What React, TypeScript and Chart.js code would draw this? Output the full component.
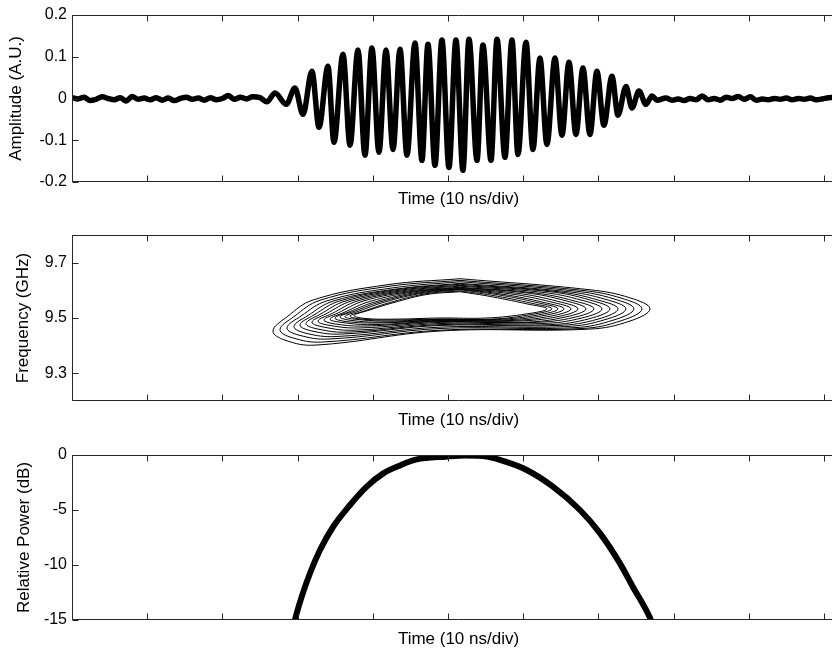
import React, { useEffect, useRef } from "react";
import { Chart, registerables } from "chart.js";

Chart.register(...registerables);

// ---------- shared axis data ----------
const xTicks = [0, 1, 2, 3, 4, 5, 6, 7, 8, 9, 10];
const xTitle = "Time (10 ns/div)";

const amplitudeTicks = [-0.2, -0.1, 0, 0.1, 0.2];
const amplitudeLabels = ["-0.2", "-0.1", "0", "0.1", "0.2"];
const freqTicks = [9.3, 9.5, 9.7];
const freqLabels = ["9.3", "9.5", "9.7"];
const powerTicks = [-15, -10, -5, 0];
const powerLabels = ["-15", "-10", "-5", "0"];

// ---------- panel 1: waveform ----------
const leadTime = [0.0, 0.08, 0.16, 0.24, 0.32, 0.4, 0.48, 0.56, 0.64, 0.72, 0.8, 0.88, 0.96, 1.04, 1.12, 1.2, 1.28, 1.36, 1.44, 1.52, 1.6, 1.68, 1.76, 1.84, 1.92, 2.0, 2.08, 2.16, 2.24, 2.32, 2.4, 2.5, 2.59, 2.7, 2.85];
const leadAmp = [0.002, -0.001, 0.003, -0.005, -0.002, 0.004, 0.0, -0.003, 0.002, -0.006, 0.005, -0.002, 0.001, -0.003, 0.002, -0.004, 0.001, -0.005, 0.0, 0.003, -0.002, 0.001, -0.004, 0.002, -0.003, 0.0, 0.007, -0.002, 0.003, -0.001, 0.004, 0.002, -0.008, 0.013, -0.014];

const oscTime = [2.965, 3.072, 3.191, 3.285, 3.404, 3.484, 3.604, 3.697, 3.803, 3.896, 3.989, 4.082, 4.176, 4.269, 4.362, 4.455, 4.561, 4.654, 4.734, 4.827, 4.92, 5.013, 5.106, 5.199, 5.279, 5.386, 5.465, 5.572, 5.652, 5.758, 5.851, 5.931, 6.037, 6.13, 6.223, 6.316, 6.423, 6.516, 6.609, 6.702, 6.795, 6.888, 6.981, 7.074, 7.181, 7.261, 7.367, 7.447, 7.54, 7.633, 7.713, 7.779, 7.899];
const oscAmp = [0.025, -0.038, 0.065, -0.069, 0.077, -0.105, 0.106, -0.112, 0.116, -0.136, 0.121, -0.129, 0.116, -0.122, 0.118, -0.136, 0.133, -0.148, 0.13, -0.16, 0.14, -0.165, 0.14, -0.172, 0.142, -0.148, 0.128, -0.148, 0.142, -0.141, 0.14, -0.134, 0.135, -0.122, 0.097, -0.11, 0.097, -0.088, 0.087, -0.086, 0.073, -0.086, 0.065, -0.064, 0.053, -0.04, 0.029, -0.023, 0.018, -0.014, 0.006, -0.004, 0.001];

const tailTime = [7.98, 8.06, 8.14, 8.22, 8.3, 8.38, 8.46, 8.54, 8.62, 8.7, 8.78, 8.86, 8.94, 9.02, 9.1, 9.18, 9.26, 9.34, 9.42, 9.5, 9.58, 9.66, 9.74, 9.82, 9.9, 9.98, 10.06, 10.14, 10.28];
const tailAmp = [-0.004, -0.001, -0.005, 0.0, -0.003, 0.006, -0.003, 0.0, -0.004, 0.003, 0.0, 0.005, -0.002, 0.004, -0.004, -0.001, -0.003, 0.0, -0.002, 0.001, -0.003, 0.0, -0.002, 0.001, -0.003, -0.001, 0.002, 0.003, 0.0];

// ---------- panel 2: time-frequency contours, [time (div), GHz] ----------
const contour0 = [[5.16, 9.642], [6.888, 9.602], [7.42, 9.573], [7.686, 9.533], [7.42, 9.489], [6.888, 9.46], [4.894, 9.453], [3.231, 9.402], [2.832, 9.42], [2.673, 9.453], [2.859, 9.504], [3.205, 9.565], [4.189, 9.62], [5.16, 9.642]];
const contour1 = [[5.16, 9.636], [6.782, 9.6], [7.314, 9.571], [7.58, 9.533], [7.314, 9.491], [6.782, 9.462], [4.894, 9.456], [3.324, 9.413], [2.926, 9.429], [2.766, 9.458], [2.952, 9.505], [3.298, 9.564], [4.229, 9.615], [5.16, 9.636]];
const contour2 = [[5.16, 9.631], [6.676, 9.598], [7.207, 9.569], [7.473, 9.533], [7.207, 9.493], [6.676, 9.465], [4.894, 9.462], [3.418, 9.424], [3.019, 9.438], [2.859, 9.464], [3.045, 9.507], [3.391, 9.562], [4.269, 9.609], [5.16, 9.631]];
const contour3 = [[5.16, 9.625], [6.569, 9.596], [7.101, 9.567], [7.367, 9.533], [7.101, 9.495], [6.569, 9.469], [4.894, 9.467], [3.511, 9.433], [3.112, 9.445], [2.952, 9.469], [3.138, 9.509], [3.484, 9.562], [4.322, 9.605], [5.16, 9.625]];
const contour4 = [[5.16, 9.622], [6.463, 9.595], [6.995, 9.565], [7.261, 9.533], [6.995, 9.496], [6.463, 9.473], [4.894, 9.473], [3.59, 9.442], [3.191, 9.453], [3.032, 9.475], [3.218, 9.511], [3.564, 9.562], [4.362, 9.604], [5.16, 9.622]];
const contour5 = [[5.16, 9.618], [6.356, 9.595], [6.888, 9.565], [7.154, 9.533], [6.888, 9.498], [6.356, 9.476], [4.894, 9.476], [3.67, 9.449], [3.271, 9.46], [3.112, 9.48], [3.298, 9.513], [3.644, 9.562], [4.402, 9.602], [5.16, 9.618]];
const contour6 = [[5.16, 9.615], [6.25, 9.593], [6.782, 9.564], [7.048, 9.533], [6.782, 9.5], [6.25, 9.48], [4.894, 9.48], [3.75, 9.456], [3.351, 9.467], [3.191, 9.485], [3.378, 9.515], [3.723, 9.562], [4.441, 9.6], [5.16, 9.615]];
const contour7 = [[5.16, 9.611], [6.144, 9.591], [6.676, 9.562], [6.941, 9.533], [6.676, 9.502], [6.144, 9.484], [4.894, 9.484], [3.83, 9.464], [3.431, 9.473], [3.271, 9.489], [3.457, 9.516], [3.803, 9.562], [4.481, 9.598], [5.16, 9.611]];
const contour8 = [[5.16, 9.609], [6.037, 9.591], [6.569, 9.562], [6.835, 9.533], [6.569, 9.504], [6.037, 9.485], [4.894, 9.487], [3.91, 9.471], [3.511, 9.478], [3.351, 9.493], [3.537, 9.518], [3.883, 9.562], [4.521, 9.596], [5.16, 9.609]];
const contour9 = [[5.16, 9.607], [5.931, 9.589], [6.463, 9.56], [6.729, 9.533], [6.463, 9.505], [5.931, 9.489], [4.894, 9.489], [3.989, 9.476], [3.59, 9.484], [3.431, 9.496], [3.617, 9.52], [3.963, 9.56], [4.561, 9.595], [5.16, 9.607]];
const contour10 = [[5.16, 9.605], [5.838, 9.587], [6.37, 9.558], [6.636, 9.533], [6.37, 9.507], [5.838, 9.491], [4.894, 9.491], [4.056, 9.482], [3.657, 9.487], [3.497, 9.5], [3.684, 9.522], [4.029, 9.558], [4.601, 9.593], [5.16, 9.605]];
const contour11 = [[5.16, 9.604], [5.745, 9.585], [6.277, 9.556], [6.543, 9.533], [6.277, 9.509], [5.745, 9.493], [4.894, 9.493], [4.122, 9.485], [3.723, 9.491], [3.564, 9.504], [3.75, 9.524], [4.096, 9.558], [4.628, 9.591], [5.16, 9.604]];
const contour12 = [[5.16, 9.602], [5.665, 9.584], [6.197, 9.555], [6.463, 9.533], [6.197, 9.511], [5.665, 9.495], [4.894, 9.495], [4.189, 9.489], [3.79, 9.495], [3.63, 9.505], [3.816, 9.525], [4.162, 9.558], [4.654, 9.589], [5.16, 9.602]];
const contour13 = [[5.16, 9.598], [5.585, 9.582], [6.117, 9.553], [6.383, 9.533], [6.117, 9.513], [5.585, 9.496], [4.894, 9.496], [4.255, 9.493], [3.856, 9.496], [3.697, 9.507], [3.883, 9.525], [4.229, 9.556], [4.694, 9.587], [5.16, 9.598]];
const contour14 = [[5.16, 9.595], [5.519, 9.58], [6.051, 9.551], [6.316, 9.533], [6.051, 9.515], [5.519, 9.5], [4.894, 9.5], [4.309, 9.496], [3.91, 9.498], [3.75, 9.509], [3.936, 9.527], [4.282, 9.556], [4.721, 9.585], [5.16, 9.595]];
const contours = [contour0, contour1, contour2, contour3, contour4, contour5, contour6, contour7, contour8, contour9, contour10, contour11, contour12, contour13, contour14];

// ---------- panel 3: relative power ----------
const powerTime = [2.94, 2.965, 3.054, 3.165, 3.298, 3.475, 3.697, 3.919, 4.14, 4.362, 4.584, 4.973, 5.226, 5.519, 5.691, 6.047, 6.396, 6.755, 7.021, 7.287, 7.46, 7.686, 7.73];
const powerDb = [-15.8, -15.0, -12.9, -10.75, -8.64, -6.5, -4.55, -2.88, -1.67, -0.95, -0.4, -0.15, -0.05, -0.15, -0.45, -1.36, -2.88, -5.0, -7.1, -9.85, -12.0, -14.8, -15.6];

const FONT = "'Liberation Sans', Arial, Helvetica, sans-serif";
const CANVAS_W = 845;

const boxPlugin = {
  id: "matlabBox",
  afterDatasetsDraw(chart: any) {
    const { ctx, chartArea: a, scales } = chart;
    const xs = scales.x;
    const ys = scales.y;
    const L = Math.round(a.left) + 0.5;
    const R = Math.round(a.right) - 0.5;
    const T = Math.round(a.top) + 0.5;
    const B = Math.round(a.bottom) - 0.5;
    const tl = 6;
    ctx.save();
    ctx.strokeStyle = "#262626";
    ctx.lineWidth = 1;
    ctx.beginPath();
    ctx.rect(L, T, R - L, B - T);
    for (const v of xTicks) {
      const px = Math.round(xs.getPixelForValue(v)) + 0.5;
      ctx.moveTo(px, T);
      ctx.lineTo(px, T + tl);
      ctx.moveTo(px, B);
      ctx.lineTo(px, B - tl);
    }
    for (const t of ys.ticks) {
      const py = Math.round(ys.getPixelForValue(t.value)) + 0.5;
      ctx.moveTo(L, py);
      ctx.lineTo(L + tl, py);
      ctx.moveTo(R, py);
      ctx.lineTo(R - tl, py);
    }
    ctx.stroke();
    ctx.restore();
  },
};

function makeOptions(cfg: {
  yMin: number;
  yMax: number;
  yTicks: number[];
  yLabels: string[];
  yTitle: string;
  padTop: number;
  xHeight: number;
  yTitlePad: number;
  xTitlePad: number;
}) {
  return {
    responsive: false,
    animation: false,
    events: [],
    layout: { padding: { top: cfg.padTop, left: 0, right: 0, bottom: 0 } },
    plugins: { legend: { display: false }, tooltip: { enabled: false } },
    elements: { point: { radius: 0 } },
    scales: {
      x: {
        type: "linear",
        min: 0,
        max: 10.28,
        afterBuildTicks: (s: any) => {
          s.ticks = xTicks.map((v) => ({ value: v }));
        },
        afterFit: (s: any) => {
          s.height = cfg.xHeight;
        },
        ticks: { display: false },
        grid: { display: false, drawTicks: false },
        border: { display: false },
        title: {
          display: true,
          text: xTitle,
          color: "#000",
          font: { family: FONT, size: 17 },
          padding: { top: 0, bottom: cfg.xTitlePad },
        },
      },
      y: {
        type: "linear",
        min: cfg.yMin,
        max: cfg.yMax,
        afterBuildTicks: (s: any) => {
          s.ticks = cfg.yTicks.map((v) => ({ value: v }));
        },
        afterFit: (s: any) => {
          s.width = 72;
        },
        ticks: {
          color: "#000",
          font: { family: FONT, size: 16 },
          padding: 5,
          callback: (_v: any, i: number) => cfg.yLabels[i],
        },
        grid: { display: false, drawTicks: false },
        border: { display: false },
        title: {
          display: true,
          text: cfg.yTitle,
          color: "#000",
          font: { family: FONT, size: 17 },
          padding: { top: cfg.yTitlePad, bottom: 0 },
        },
      },
    },
  } as any;
}

function useChart(ref: React.RefObject<HTMLCanvasElement>, build: () => any) {
  useEffect(() => {
    if (!ref.current) return;
    const chart = new Chart(ref.current, build());
    return () => chart.destroy();
  }, []);
}

export default function App() {
  const c1 = useRef<HTMLCanvasElement>(null);
  const c2 = useRef<HTMLCanvasElement>(null);
  const c3 = useRef<HTMLCanvasElement>(null);

  useChart(c1, () => {
    const t = [...leadTime, ...oscTime, ...tailTime];
    const a = [...leadAmp, ...oscAmp, ...tailAmp];
    return {
      type: "line",
      data: {
        datasets: [
          {
            data: t.map((x, i) => ({ x, y: a[i] })),
            borderColor: "#000",
            borderWidth: 5.5,
            cubicInterpolationMode: "monotone",
            borderJoinStyle: "round",
            borderCapStyle: "round",
            pointRadius: 0,
            fill: false,
          },
        ],
      },
      options: makeOptions({
        yMin: -0.2,
        yMax: 0.2,
        yTicks: amplitudeTicks,
        yLabels: amplitudeLabels,
        yTitle: "Amplitude (A.U.)",
        padTop: 15,
        xHeight: 32,
        yTitlePad: 6,
        xTitlePad: 4,
      }),
      plugins: [boxPlugin],
    };
  });

  useChart(c2, () => ({
    type: "line",
    data: {
      datasets: contours.map((c) => ({
        data: c.map((p) => ({ x: p[0], y: p[1] })),
        borderColor: "#000",
        borderWidth: 1,
        tension: 0.4,
        pointRadius: 0,
        fill: false,
      })),
    },
    options: makeOptions({
      yMin: 9.2,
      yMax: 9.8,
      yTicks: freqTicks,
      yLabels: freqLabels,
      yTitle: "Frequency (GHz)",
      padTop: 21,
      xHeight: 31,
      yTitlePad: 13,
      xTitlePad: 1,
    }),
    plugins: [boxPlugin],
  }));

  useChart(c3, () => ({
    type: "line",
    data: {
      datasets: [
        {
          data: powerTime.map((x, i) => ({ x, y: powerDb[i] })),
          borderColor: "#000",
          borderWidth: 6,
          cubicInterpolationMode: "monotone",
          pointRadius: 0,
          fill: false,
          clip: 0,
        },
      ],
    },
    options: makeOptions({
      yMin: -15,
      yMax: 0,
      yTicks: powerTicks,
      yLabels: powerLabels,
      yTitle: "Relative Power (dB)",
      padTop: 23,
      xHeight: 34,
      yTitlePad: 14,
      xTitlePad: 4,
    }),
    plugins: [boxPlugin],
  }));

  const canvasStyle = (top: number, h: number): React.CSSProperties => ({
    position: "absolute",
    left: 0,
    top,
    width: CANVAS_W,
    height: h,
  });

  return (
    <div
      style={{
        position: "fixed",
        left: 0,
        top: 0,
        width: 832,
        height: 654,
        overflow: "hidden",
        background: "#fff",
      }}
    >
      <canvas ref={c1} width={CANVAS_W} height={214} style={canvasStyle(0, 214)} />
      <canvas ref={c2} width={CANVAS_W} height={218} style={canvasStyle(214, 218)} />
      <canvas ref={c3} width={CANVAS_W} height={222} style={canvasStyle(432, 222)} />
    </div>
  );
}
